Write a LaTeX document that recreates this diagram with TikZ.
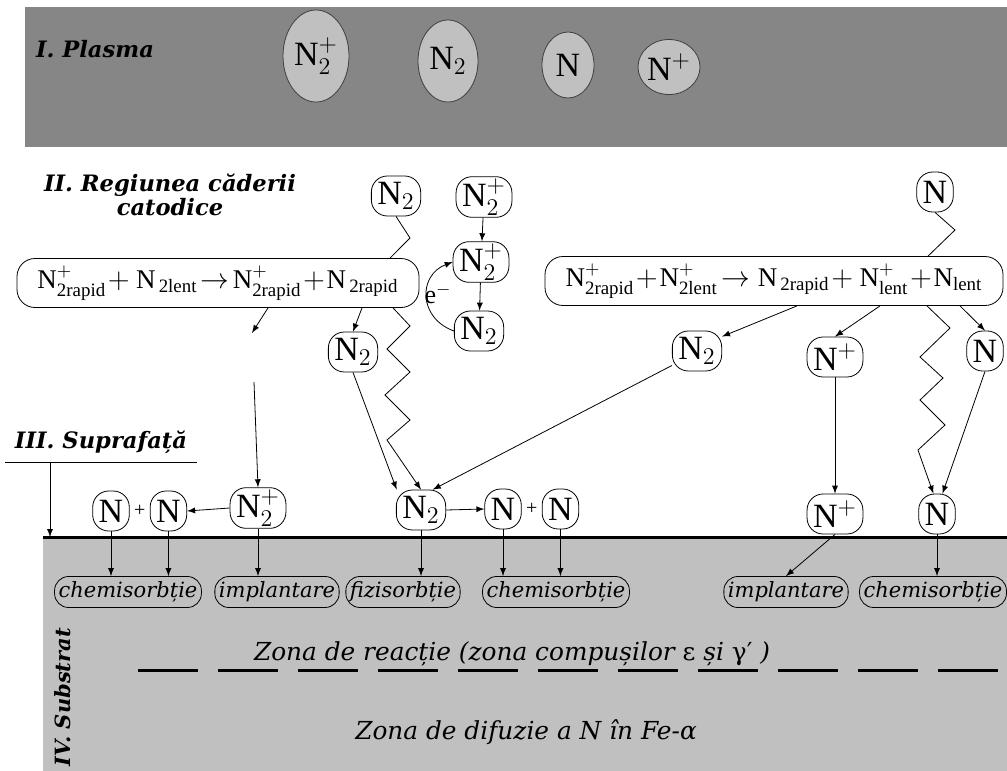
\documentclass[tikz,border=0pt]{standalone}
\usepackage{amsmath}
\usepackage{fontspec}
\setmainfont{Liberation Serif}
\newfontfamily\dejavu{DejaVu Serif}
\usepackage{tikz}
\usetikzlibrary{shapes}
\usetikzlibrary{arrows}
\usetikzlibrary{positioning}
\definecolor{plasmagray}{RGB}{134,134,134}
\definecolor{substrategray}{RGB}{192,192,192}

\begin{document}
\begin{tikzpicture}[x=0.5pt,y=-0.5pt]
\tikzstyle{ion} = [ellipse, draw=black!75, fill=substrategray, inner sep=0pt,
font=\fontsize{17}{20}\selectfont]
\tikzstyle{particle} = [rectangle, draw, fill=white, rounded corners=8pt,
inner xsep=3pt, inner ysep=1pt, minimum height=20pt, font=\fontsize{17}{20}\selectfont]
\tikzstyle{reaction} = [rectangle, draw, fill=white, rounded corners=9pt,
minimum height=24.5pt, inner sep=1pt, font=\fontsize{13.5}{16}\selectfont]
\tikzstyle{effect} = [rectangle, draw, rounded corners=7pt, minimum height=15.5pt,
inner xsep=2pt, inner ysep=1pt, font=\dejavu\itshape\fontsize{10.5}{12}\selectfont]
\tikzstyle{region} = [align=center, font=\dejavu\bfseries\itshape\fontsize{11.3}{12}\selectfont]
\tikzstyle{zone} = [font=\dejavu\itshape\fontsize{12.4}{15}\selectfont]
\tikzstyle{line} = [draw, ->, >=latex]
\useasboundingbox (0,0) rectangle (1007,771);
\clip (0,0) rectangle (1007,771);
% I. plasma
\fill[plasmagray] (25,7) rectangle (1007,147);
\node[region] (plasma) at (95,49) {I. Plasma};
\node[ion, minimum width=33pt, minimum height=46pt] (p1) at (316,56) {$\text{N}^{+}_{2}$};
\node[ion, minimum width=30pt, minimum height=41pt] (p2) at (448,61) {$\text{N}_{2}$};
\node[ion, minimum width=26pt, minimum height=33pt] (p3) at (568,65) {N};
\node[ion, minimum width=22.5pt, minimum height=27.5pt] (p4) at (669,67) {N$^{+}$};
% II. cathode fall
\node[region] (cathode) at (170,195) {II. Regiunea căderii\\catodice};
\node[reaction, minimum width=201pt] (r1) at (218,283)
{$\text{N}^{+}_{\text{2rapid}}\!+\text{N}_{\,\text{2lent}}\!\rightarrow\!\text{N}^{+}_{\text{2rapid}}\!+\!\text{N}_{\,\text{2rapid}}$};
\node[reaction, minimum width=229pt] (r2) at (774,281)
{$\text{N}^{+}_{\text{2rapid}}\!+\!\text{N}^{+}_{\text{2lent}}\!\rightarrow\text{N}_{\,\text{2rapid}}\!+\text{N}^{+}_{\text{lent}}\!+\!\text{N}_{\text{lent}}$};
\node[particle] (n2top) at (396,196) {$\text{N}_{2}$};
\node[particle] (n2p1) at (484,197) {$\text{N}^{+}_{2}$};
\node[particle] (n2p2) at (481,262) {$\text{N}^{+}_{2}$};
\node[particle] (n2b) at (479,331) {$\text{N}_{2}$};
\node[font=\fontsize{13}{15}\selectfont] (el) at (438,294) {e$^{-}$};
\node[particle] (n2mid) at (353,352) {$\text{N}_{2}$};
\node[particle] (ntop) at (935,192) {N};
\node[particle] (n2r) at (697,351) {$\text{N}_{2}$};
\node[particle] (npr) at (835,357) {N$^{+}$};
\node[particle] (nr) at (985,351) {N};
\coordinate (c1) at (252,333);
\coordinate (c2) at (254,382);
% III. surface
\fill[substrategray] (43,537) rectangle (1007,771);
\draw[line width=1.5pt] (43,537) -- (1007,537);
\node[region] (supr) at (101,442) {III. Suprafață};
\draw (5,462) -- (197,462);
\coordinate (ul) at (50,462);
\coordinate (surf) at (50,537);
\node[particle] (sa) at (111,511) {N};
\node[font=\fontsize{10}{12}\selectfont, inner sep=0pt] (plus1) [right=2pt of sa] {+};
\node[particle] (sb) [right=2pt of plus1] {N};
\node[particle] (sc) at (258,508) {$\text{N}^{+}_{2}$};
\node[particle] (sd) at (421,510) {$\text{N}_{2}$};
\node[particle] (se) at (503,509) {N};
\node[font=\fontsize{10}{12}\selectfont, inner sep=0pt] (plus2) [right=2pt of se] {+};
\node[particle] (sf) [right=2pt of plus2] {N};
\node[particle] (sg) at (835,514) {N$^{+}$};
\node[particle] (sh) at (937,514) {N};
% processes
\node[effect] (la) at (128,592) {chemisorbție};
\node[effect] (lb) at (277,592) {implantare};
\node[effect] (lc) at (403,592) {fizisorbție};
\node[effect] (ld) at (556,592) {chemisorbție};
\node[effect] (le) at (786,592) {implantare};
\node[effect] (lf) at (933,592) {chemisorbție};
% IV. substrate
\node[region, rotate=90, anchor=east, font=\dejavu\bfseries\itshape\fontsize{10.5}{12}\selectfont]
(subst) at (63,621) {IV. Substrat};
\draw[line width=1.5pt, dash pattern=on 30pt off 10pt] (138,670) -- (1007,670);
\node[zone] (react) at (512,654) {Zona de reacție (zona compușilor {\upshape ε} și {\upshape γ′} )};
\node[zone] (difuz) at (526,732) {Zona de difuzie a N în Fe-α};
% connectors
\draw (n2top.south) -- (410,238) -- (r1.north -| 390,0);
\draw[line] (n2p1) -- (n2p2);
\draw[line] (n2p2) -- (n2b);
\draw[line] (n2b.west) .. controls (418,318) and (418,275) .. (n2p2.west);
\draw[line] (r1.south -| 268,0) -- (c1);
\draw[line] (c2) -- (sc.north);
\draw[line] (r1.south -| 362,0) -- (n2mid.north);
\draw[line] (r1.south -| 393,0) -- (410,326) -- (387,349) -- (410,372) -- (385,395)
-- (410,420) -- (387,440) -- (sd.north);
\draw[line] (n2mid.south) -- (sd.140);
\draw[line] (n2r.210) -- (sd.60);
\draw (ntop.south) -- (955,230) -- (r2.north -| 928,0);
\draw[line] (r2.south -| 797,0) -- (n2r.30);
\draw[line] (r2.south -| 880,0) -- (npr.north);
\draw[line] (r2.south -| 927,0) -- (950,328) -- (920,357) -- (943,378) -- (920,400)
-- (945,425) -- (918,450) -- (sh.100);
\draw[line] (r2.south -| 960,0) -- (nr.north);
\draw[line] (nr.south) -- (sh.75);
\draw[line] (npr) -- (sg);
\draw[line] (ul) -- (surf);
\draw[line] (sc.west) -- (sb.east);
\draw[line] (sd.east) -- (se.west);
\draw[line] (sa.south) -- (sa.south |- la.north);
\draw[line] (sb.south) -- (sb.south |- la.north);
\draw[line] (sc.south) -- (sc.south |- lb.north);
\draw[line] (sd.south) -- (sd.south |- lc.north);
\draw[line] (se.south) -- (se.south |- ld.north);
\draw[line] (sf.south) -- (sf.south |- ld.north);
\draw[line] (sg.south) -- (le.north);
\draw[line] (sh.south) -- (sh.south |- lf.north);
\end{tikzpicture}
\end{document}
